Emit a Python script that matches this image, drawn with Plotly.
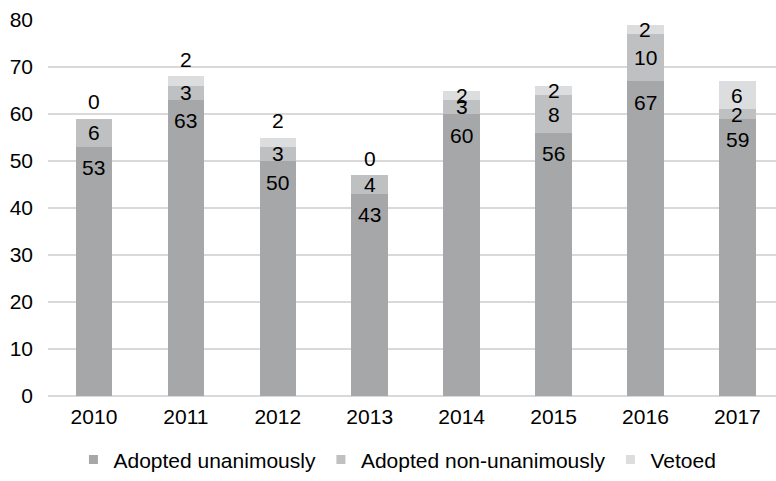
import plotly.graph_objects as go

years = ["2010", "2011", "2012", "2013", "2014", "2015", "2016", "2017"]
unanimous = [53, 63, 50, 43, 60, 56, 67, 59]
non_unanimous = [6, 3, 3, 4, 3, 8, 10, 2]
vetoed = [0, 2, 2, 0, 2, 2, 2, 6]
series_names = ["Adopted unanimously", "Adopted non-unanimously", "Vetoed"]
# where the vetoed label sits: above the stack or centred in its segment
veto_label_mode = ["above", "above", "above", "above", "center", "center", "center", "center"]

colors = ["#a6a7a9", "#bfc0c2", "#dcdddf"]
FONT = "Liberation Sans, Arial, sans-serif"
FS = 21

fig = go.Figure()
for vals, name, col in zip([unanimous, non_unanimous, vetoed], series_names, colors):
    fig.add_trace(go.Bar(x=years, y=vals, name=name, marker=dict(color=col, line=dict(width=0)),
                         showlegend=False, hoverinfo="skip"))
    # legend entry with a small square symbol
    fig.add_trace(go.Scatter(x=[None], y=[None], mode="markers", name=name,
                             marker=dict(symbol="square", size=9, color=col), showlegend=True))

ann = []
for i, yr in enumerate(years):
    u, n, v = unanimous[i], non_unanimous[i], vetoed[i]
    ann.append(dict(x=i, y=u, text=str(u), showarrow=False, yanchor="middle", yshift=-21))
    ann.append(dict(x=i, y=u + n / 2, text=str(n), showarrow=False, yanchor="middle"))
    if veto_label_mode[i] == "above":
        ann.append(dict(x=i, y=u + n + v, text=str(v), showarrow=False, yanchor="middle", yshift=17))
    else:
        ann.append(dict(x=i, y=u + n + v / 2, text=str(v), showarrow=False, yanchor="middle"))
for a in ann:
    a["font"] = dict(family=FONT, size=FS, color="#000000")
    a["xref"] = "x"
    a["yref"] = "y"

fig.update_layout(
    barmode="stack",
    bargap=0.603,
    width=776, height=481,
    margin=dict(l=48, r=0, t=20, b=83),
    paper_bgcolor="white", plot_bgcolor="white",
    font=dict(family=FONT, size=FS, color="#000000"),
    annotations=ann,
    legend=dict(orientation="h", x=0.48, xanchor="center", y=-0.17, yanchor="middle",
                font=dict(family=FONT, size=FS, color="#000000"), itemclick=False,
                traceorder="normal"),
    xaxis=dict(type="category", range=[-0.5, 7.42], showgrid=False, showline=False,
               zeroline=False, ticks="", ticklabelstandoff=6),
    yaxis=dict(range=[0, 80], dtick=10, showgrid=True, gridcolor="#d9d9d9", gridwidth=1.5,
               zeroline=True, zerolinecolor="#d9d9d9", zerolinewidth=1.5, showline=False,
               ticks="", ticklabelstandoff=14),
)

fig.write_html("out.html")
